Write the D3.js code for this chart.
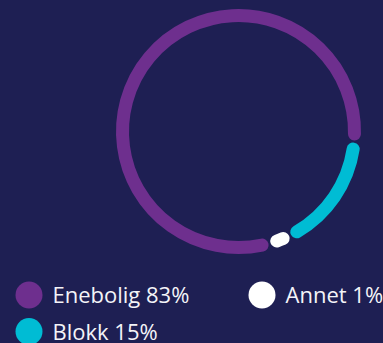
<!DOCTYPE html>
<html lang="no">
  <head>
    <meta charset="UTF-8" />
    <title>Boligtype</title>
    <script src="https://d3js.org/d3.v7.min.js"></script>
    <style>
      html, body {
        margin: 0;
        padding: 0;
        background: #1e1f53;
      }
      .legend_text {
        font-family: "Open Sans", sans-serif;
        font-size: 22px;
        fill: #f4f4f8;
      }
    </style>
  </head>
  <body>
    <svg width="383" height="343"></svg>
    <script>
      // data
      const labels = ["Enebolig", "Blokk", "Annet"];
      const values = [83, 15, 1];
      const colors = ["#6e2f8e", "#00bcd4", "#ffffff"];

      const svg = d3.select("svg");
      const cx = 238.5, cy = 131.5, radius = 116, ringWidth = 13;
      const deg = Math.PI / 180;

      // pie layout, starting near the bottom and going clockwise
      const pie = d3
        .pie()
        .sort(null)
        .padAngle(7.5 * deg)
        .startAngle(164.5 * deg)
        .endAngle(164.5 * deg + 2 * Math.PI);

      const arcs = pie(values);

      const ring = svg.append("g").attr("transform", `translate(${cx},${cy})`);

      ring
        .selectAll("path")
        .data(arcs)
        .enter()
        .append("path")
        .attr("d", function (d) {
          const p = d3.path();
          const a0 = d.startAngle + d.padAngle / 2 - Math.PI / 2;
          const a1 = d.endAngle - d.padAngle / 2 - Math.PI / 2;
          p.arc(0, 0, radius, a0, a1);
          return p.toString();
        })
        .attr("fill", "none")
        .attr("stroke", (d, i) => colors[i])
        .attr("stroke-width", ringWidth)
        .attr("stroke-linecap", "round");

      // legend
      const legendPos = [
        [29, 295],
        [29, 331.5],
        [262, 295],
      ];

      const legend = svg
        .append("g")
        .selectAll("g")
        .data(labels)
        .enter()
        .append("g")
        .attr("transform", (d, i) => `translate(${legendPos[i][0]},${legendPos[i][1]})`);

      legend
        .append("circle")
        .attr("r", 13.5)
        .attr("fill", (d, i) => colors[i]);

      legend
        .append("text")
        .attr("class", "legend_text")
        .attr("x", 23.5)
        .attr("y", 8)
        .text((d, i) => `${d} ${values[i]}%`);
    </script>
  </body>
</html>
